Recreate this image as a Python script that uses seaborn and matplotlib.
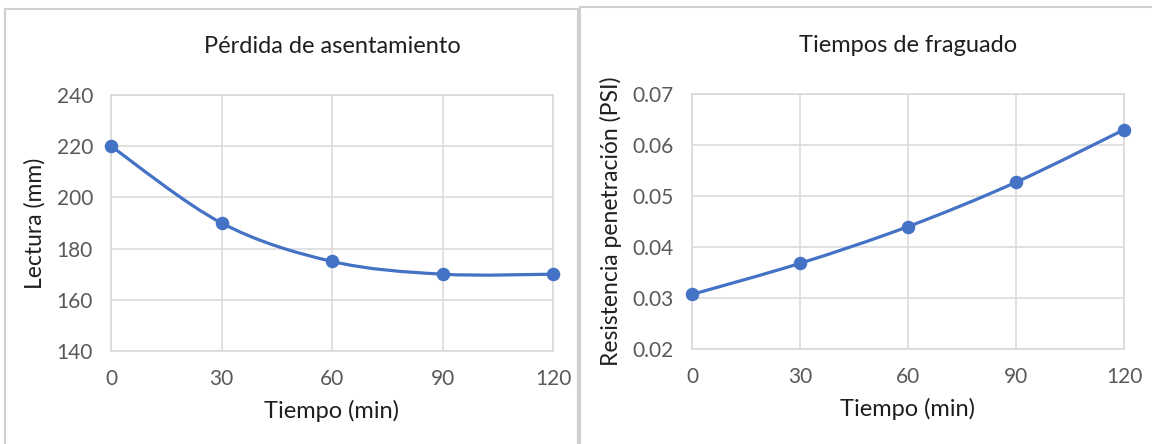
import numpy as np
import pandas as pd
import matplotlib
matplotlib.use("Agg")
import matplotlib.pyplot as plt
from matplotlib.path import Path
from matplotlib.patches import PathPatch
from matplotlib.lines import Line2D
import seaborn as sns

# ---- data ----
tiempo = [0, 30, 60, 90, 120]
lectura = [220, 190, 175, 170, 170]
resistencia = [0.0307, 0.0368, 0.0440, 0.0527, 0.0630]

titles = ["Pérdida de asentamiento", "Tiempos de fraguado"]
ylabels = ["Lectura (mm)", "Resistencia penetración (PSI)"]
xlabel = "Tiempo (min)"
xticks = [0, 30, 60, 90, 120]
yticks_left = [140, 160, 180, 200, 220, 240]
yticks_right = [0.02, 0.03, 0.04, 0.05, 0.06, 0.07]

sns.set_theme(style="white")
plt.rcParams["font.family"] = ["Lato", "DejaVu Sans"]

BLUE = "#4472C4"
GRID = "#D9D9D9"
TICK = "#595959"
TXT = "#1F1F1F"

W, H = 1152, 444
fig = plt.figure(figsize=(W / 100, H / 100), dpi=100)


def ax_rect(x0, x1, ytop, ybot):
    return [x0 / W, 1 - ybot / H, (x1 - x0) / W, (ybot - ytop) / H]


def smooth_path(xs, ys):
    # Excel-style smoothed line: Bezier segments through the data points
    pts = np.column_stack([xs, ys]).astype(float)
    n = len(pts)
    verts = [pts[0]]
    codes = [Path.MOVETO]
    for i in range(n - 1):
        p0 = pts[i - 1] if i > 0 else pts[i]
        p1 = pts[i]
        p2 = pts[i + 1]
        p3 = pts[i + 2] if i + 2 < n else pts[i + 1]
        c1 = p1 + (p2 - p0) / 6.0
        c2 = p2 - (p3 - p1) / 6.0
        verts += [c1, c2, p2]
        codes += [Path.CURVE4] * 3
    return Path(verts, codes)


def draw(ax, yvals, yticks, title, ylabel, fmt):
    df = pd.DataFrame({"t": tiempo, "v": yvals})
    ax.add_patch(PathPatch(smooth_path(df["t"], df["v"]), facecolor="none",
                           edgecolor=BLUE, lw=2.3, zorder=3, capstyle="round"))
    sns.scatterplot(data=df, x="t", y="v", ax=ax, color=BLUE, s=95,
                    edgecolor=BLUE, linewidth=0, zorder=4, clip_on=False)
    ax.set_xlim(xticks[0], xticks[-1])
    ax.set_ylim(yticks[0], yticks[-1])
    ax.set_xticks(xticks)
    ax.set_yticks(yticks)
    ax.set_yticklabels([fmt(v) for v in yticks])
    ax.grid(True, color=GRID, lw=1.1)
    for s in ax.spines.values():
        s.set_color(GRID)
        s.set_linewidth(1.1)
    ax.tick_params(axis="both", length=0, labelsize=15, colors=TICK)
    ax.tick_params(axis="x", pad=13)
    ax.tick_params(axis="y", pad=13)
    ax.set_xlabel(xlabel, fontsize=17, color=TXT, labelpad=8)
    ax.set_ylabel(ylabel, fontsize=16.5, color=TXT, labelpad=8)
    ax.set_title(title, fontsize=17, color=TXT, pad=30)


ax1 = fig.add_axes(ax_rect(111, 553, 95, 351))
ax2 = fig.add_axes(ax_rect(692, 1124, 94, 349))
draw(ax1, lectura, yticks_left, titles[0], ylabels[0], lambda v: f"{v:d}")
draw(ax2, resistencia, yticks_right, titles[1], ylabels[1], lambda v: f"{v:.2f}")

# chart-area borders (Excel chart frames)
def fline(x0, y0, x1, y1):
    fig.add_artist(Line2D([x0 / W, x1 / W], [1 - y0 / H, 1 - y1 / H],
                          color="#D0D0D0", lw=1.5, transform=fig.transFigure))

fline(5, 9, 578, 9)
fline(5, 9, 5, 444)
fline(578, 9, 578, 444)
fline(580, 7, 1152, 7)
fline(580, 7, 580, 444)

fig.savefig("out.png", dpi=100, facecolor="white")
